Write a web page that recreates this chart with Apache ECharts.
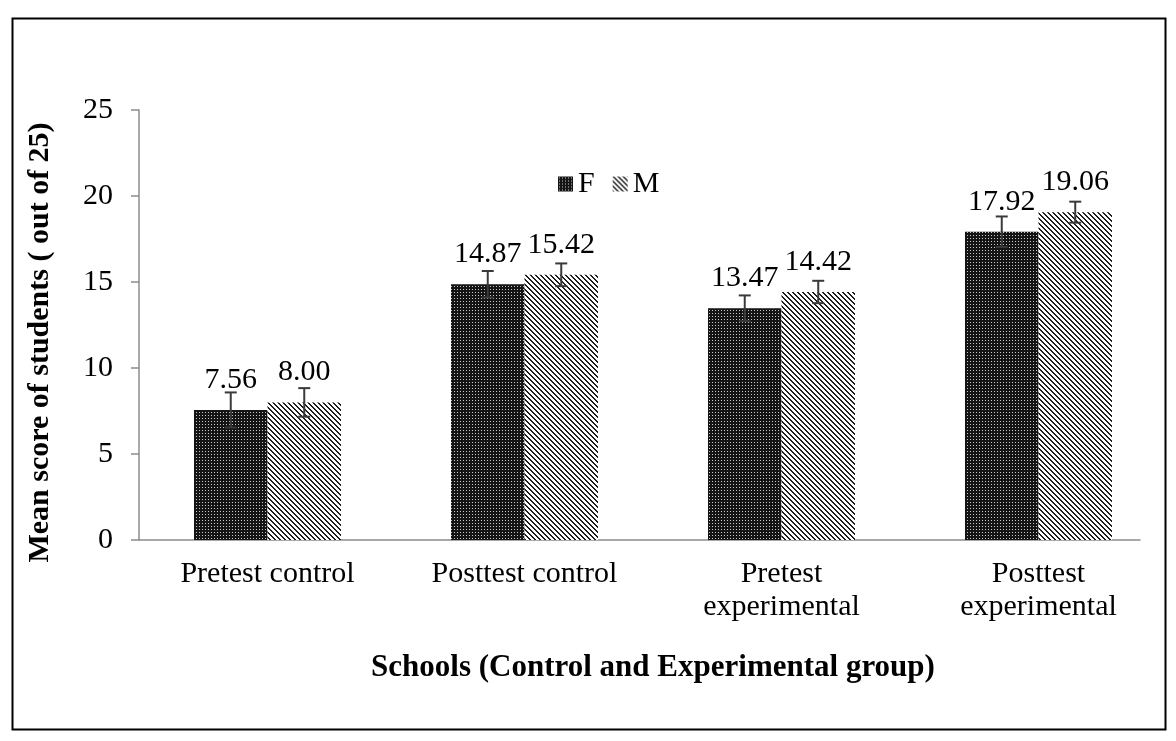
<!DOCTYPE html>
<html><head><meta charset="utf-8">
<script src="https://cdn.jsdelivr.net/npm/echarts@6/dist/echarts.min.js"></script>
<style>html,body{margin:0;padding:0;background:#fff}#c{width:1176px;height:741px}</style>
</head><body><div id="c"></div>
<script>
const categories = ['Pretest control', 'Posttest control', 'Pretest\nexperimental', 'Posttest\nexperimental'];
const femaleMeans = [7.56, 14.87, 13.47, 17.92];
const maleMeans = [8.00, 15.42, 14.42, 19.06];
const femaleErr = [1.02, 0.77, 0.75, 0.89];
const maleErr = [0.83, 0.66, 0.65, 0.61];
const seriesNames = ['F', 'M'];
const yMin = 0, yMax = 25, yStep = 5;

const FONT = '"Liberation Serif", "Times New Roman", serif';
const BARW = 0.286;

function makePattern(size, fn) {
  const c = document.createElement('canvas');
  c.width = size; c.height = size;
  const ctx = c.getContext('2d');
  const img = ctx.createImageData(size, size);
  for (let y = 0; y < size; y++) for (let x = 0; x < size; x++) {
    const v = fn(x, y);
    const k = (y * size + x) * 4;
    img.data[k] = v; img.data[k + 1] = v; img.data[k + 2] = v; img.data[k + 3] = 255;
  }
  ctx.putImageData(img, 0, 0);
  return c;
}
const dotPattern = makePattern(3, (x, y) => (x === 1 && y === 1) ? 200 : 20);
const diagPattern = makePattern(5, (x, y) => { const d = ((x - y) % 5 + 5) % 5; return (d === 0 || d === 1) ? 30 : 255; });
const fFill = { image: dotPattern, repeat: 'repeat' };
const mFill = { image: diagPattern, repeat: 'repeat' };

function errRenderer(sign) {
  return function (params, api) {
    const i = api.value(0), v = api.value(1), e = api.value(2);
    const band = api.size([1, 0])[0];
    const off = sign * band * BARW / 2;
    const top = api.coord([i, v + e]);
    const bot = api.coord([i, v - e]);
    const x = top[0] + off;
    const cap = 6;
    const st = { stroke: '#3a3a3a', lineWidth: 2 };
    return { type: 'group', children: [
      { type: 'line', shape: { x1: x, y1: top[1], x2: x, y2: bot[1] }, style: st },
      { type: 'line', shape: { x1: x - cap, y1: top[1], x2: x + cap, y2: top[1] }, style: st },
      { type: 'line', shape: { x1: x - cap, y1: bot[1], x2: x + cap, y2: bot[1] }, style: st }
    ] };
  };
}

const chart = echarts.init(document.getElementById('c'), null, { renderer: 'canvas' });
chart.setOption({
  animation: false,
  backgroundColor: '#fff',
  textStyle: { fontFamily: FONT, color: '#000' },
  graphic: [{
    type: 'rect', left: 10, top: 16, shape: { width: 1153, height: 711 },
    style: { fill: 'none', stroke: '#000', lineWidth: 2 }, silent: true
  }],
  legend: {
    data: seriesNames, left: 553, top: 164, icon: 'rect', itemWidth: 15, itemHeight: 15, itemGap: 18,
    textStyle: { fontFamily: FONT, fontSize: 30, color: '#000', padding: [0, 0, 0, 0] }
  },
  grid: [
    { left: 139, right: 9, top: 110, bottom: 201, containLabel: false },
    { left: 139, right: 36, top: 110, bottom: 201, containLabel: false }
  ],
  xAxis: [{
    type: 'category', data: categories, gridIndex: 0,
    axisLine: { show: false }, axisTick: { show: false },
    axisLabel: { margin: 18, fontFamily: FONT, fontSize: 30, color: '#000', lineHeight: 33, interval: 0 },
    name: 'Schools (Control and Experimental group)', nameLocation: 'middle', nameGap: 112,
    nameTextStyle: { fontFamily: FONT, fontSize: 31, fontWeight: 'bold', color: '#000' }
  }, {
    type: 'category', data: categories, gridIndex: 1,
    axisLine: { show: true, lineStyle: { color: '#8c8c8c', width: 1.5 } },
    axisTick: { show: false }, axisLabel: { show: false }
  }],
  yAxis: [{
    type: 'value', min: yMin, max: yMax, interval: yStep, gridIndex: 0,
    axisLine: { show: true, lineStyle: { color: '#8c8c8c', width: 1.5 } },
    axisTick: { show: true, length: 8, lineStyle: { color: '#8c8c8c', width: 1.5 } },
    splitLine: { show: false },
    axisLabel: { margin: 26, fontFamily: FONT, fontSize: 30, color: '#000' },
    name: 'Mean score of students ( out of 25)', nameLocation: 'middle', nameGap: 84,
    nameTextStyle: { fontFamily: FONT, fontSize: 30, fontWeight: 'bold', color: '#000', padding: [0, 35, 0, 0] }
  }, {
    type: 'value', min: yMin, max: yMax, gridIndex: 1, show: false
  }],
  series: [
    {
      name: 'F', type: 'bar', data: femaleMeans, barWidth: (BARW * 100) + '%', barGap: '0%',
      itemStyle: { color: fFill },
      label: { show: true, position: 'top', distance: 15, fontFamily: FONT, fontSize: 30, color: '#000',
        formatter: p => Number(p.value).toFixed(2) }
    },
    {
      name: 'M', type: 'bar', data: maleMeans, barWidth: (BARW * 100) + '%', barGap: '0%',
      itemStyle: { color: mFill },
      label: { show: true, position: 'top', distance: 15, fontFamily: FONT, fontSize: 30, color: '#000',
        formatter: p => Number(p.value).toFixed(2) }
    },
    {
      name: 'errF', type: 'custom', renderItem: errRenderer(-1), z: 5,
      data: femaleMeans.map((v, i) => [i, v, femaleErr[i]]), encode: { x: 0, y: 1 }
    },
    {
      name: 'errM', type: 'custom', renderItem: errRenderer(1), z: 5,
      data: maleMeans.map((v, i) => [i, v, maleErr[i]]), encode: { x: 0, y: 1 }
    }
  ]
});
</script>
</body></html>
